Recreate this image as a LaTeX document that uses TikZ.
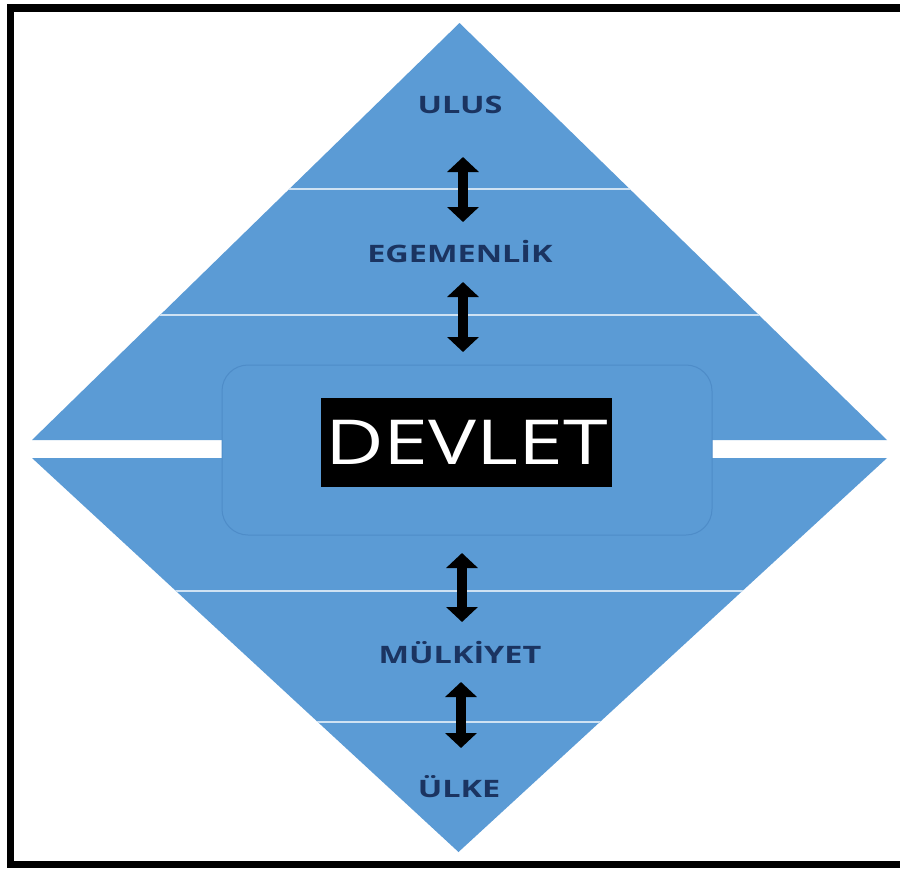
\documentclass[tikz,border=0pt]{standalone}
\usepackage{fontspec}
\setmainfont{Open Sans}
\usetikzlibrary{arrows.meta}
\definecolor{offblue}{HTML}{5B9BD5}
\definecolor{rectedge}{HTML}{4E8CC8}
\definecolor{navy}{HTML}{1B3461}
\definecolor{sepline}{HTML}{CFE2F3}
\newcommand{\widen}[2]{\scalebox{#1}[1]{#2}}
\tikzset{
  lbl/.style={inner sep=0pt, text=navy, font=\fontsize{24}{24}\selectfont\bfseries},
  dbl/.style={line width=10pt, {Triangle[width=31pt,length=15pt]}-{Triangle[width=31pt,length=15pt]}},
  sep/.style={draw=sepline, line width=2pt},
}
\begin{document}
\begin{tikzpicture}[x=1pt,y=-1pt]
\useasboundingbox (0,0) rectangle (900,868);
\fill[white] (0,0) rectangle (900,868);
% triangles
\fill[offblue] (459.5,23) -- (32,440) -- (887,440) -- cycle;
\fill[offblue] (32,458) -- (887,458) -- (458.5,852) -- cycle;
% separator lines
\begin{scope}
\clip (459.5,23) -- (32,440) -- (887,440) -- cycle;
\draw[sep] (0,189) -- (900,189);
\draw[sep] (0,315) -- (900,315);
\end{scope}
\begin{scope}
\clip (32,458) -- (887,458) -- (458.5,852) -- cycle;
\draw[sep] (0,591) -- (900,591);
\draw[sep] (0,722) -- (900,722);
\end{scope}
% central rounded rectangle
\draw[fill=offblue, draw=rectedge, line width=1pt, rounded corners=26pt] (222,365) rectangle (712,535);
% labels
\node[lbl] (ulus) at (460,105) {\widen{1.35}{ULUS}};
\node[lbl] (egemen) at (460,252) {\widen{1.35}{EGEMENLİK}};
\node[fill=black, text=white, inner sep=0pt, minimum width=291pt, minimum height=89pt, font=\fontsize{62}{62}\selectfont] (devlet) at (466.5,442.5) {\widen{1.3}{DEVLET}};
\node[lbl] (mulk) at (460,653) {\widen{1.35}{MÜLKİYET}};
\node[lbl] (ulke) at (459,787) {\widen{1.35}{ÜLKE}};
% arrow end points
\coordinate (a1s) at (463,157); \coordinate (a1e) at (463,222);
\coordinate (a2s) at (463,282); \coordinate (a2e) at (463,352);
\coordinate (a3s) at (462,553); \coordinate (a3e) at (462,622);
\coordinate (a4s) at (461,682); \coordinate (a4e) at (461,748);
\draw[dbl] (a1s) -- (a1e);
\draw[dbl] (a2s) -- (a2e);
\draw[dbl] (a3s) -- (a3e);
\draw[dbl] (a4s) -- (a4e);
% frame
\draw[black, line width=7.5pt] (10.5,8) -- (920,8);
\draw[black, line width=7.5pt] (10.5,4) -- (10.5,868);
\draw[black, line width=7pt] (7,864.5) -- (920,864.5);
\end{tikzpicture}
\end{document}
